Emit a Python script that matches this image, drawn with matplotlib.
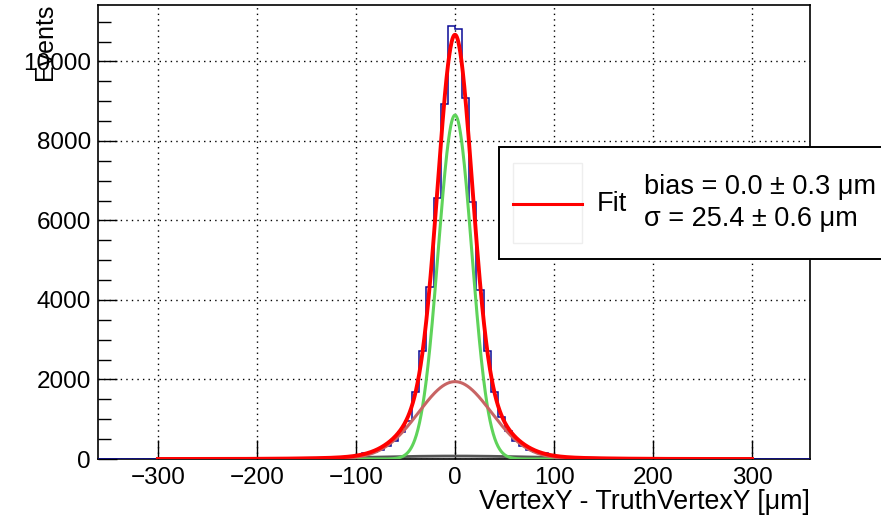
import numpy as np
import matplotlib
matplotlib.use("Agg")
import matplotlib.pyplot as plt
from matplotlib.patches import Rectangle
from matplotlib.lines import Line2D
from matplotlib.ticker import MultipleLocator

plt.rcParams['font.family'] = ['Liberation Sans', 'DejaVu Sans']

# ---------------- data ----------------
bin_lo, bin_hi, n_bins = -360.0, 360.0, 100
hist_counts = [
    0, 0, 0, 0, 1, 0, 0, 1, 0, 1,
    1, 0, 1, 1, 2, 1, 2, 2, 3, 3,
    4, 4, 5, 6, 8, 9, 11, 14, 18, 22,
    20, 26, 33, 42, 55, 72, 98, 140, 184, 226,
    327, 460, 688, 956, 1694, 2709, 4320, 6558, 8923, 10893,
    10810, 9090, 6456, 4252, 2725, 1694, 1064, 712, 460, 327,
    226, 184, 140, 100, 76, 57, 44, 34, 27, 21,
    18, 14, 11, 9, 7, 5, 5, 3, 3, 2,
    2, 1, 1, 2, 1, 0, 1, 0, 0, 1,
    0, 0, 0, 1, 0, 0, 0, 0, 0, 0,
]
# fit components: (amplitude, mean, sigma)
core_gaus = (8650.0, 0.0, 16.9)
wide_gaus = (1946.0, 0.0, 36.5)
bkg_gaus = (75.0, 0.0, 85.0)
fit_range = (-300.0, 300.0)

x_ticks = [-300, -200, -100, 0, 100, 200, 300]
y_ticks = [0, 2000, 4000, 6000, 8000, 10000]
x_title = "VertexY - TruthVertexY [\u03bcm]"
y_title = "Events"
legend_label = "Fit"
fit_text = ["bias = 0.0 \u00b1 0.3 \u03bcm", "\u03c3 = 25.4 \u00b1 0.6 \u03bcm"]

# ---------------- figure ----------------
W, H = 881, 519
fig = plt.figure(figsize=(W / 100, H / 100), dpi=100)
L, R, T, B = 98, 810, 5, 459
ax = fig.add_axes([L / W, 1 - B / H, (R - L) / W, (B - T) / H])

edges = np.linspace(bin_lo, bin_hi, n_bins + 1)
ax.stairs(hist_counts, edges, color='#0a0a96', lw=1.1, zorder=3)

def gaus(x, p):
    a, m, s = p
    return a * np.exp(-0.5 * ((x - m) / s) ** 2)

xf = np.linspace(fit_range[0], fit_range[1], 1500)
ax.plot(xf, gaus(xf, bkg_gaus), color='#555555', lw=2.0, zorder=4)
ax.plot(xf, gaus(xf, core_gaus), color='#5fd35a', lw=2.2, zorder=5)
ax.plot(xf, gaus(xf, wide_gaus), color='#c86464', lw=2.2, zorder=5)
ax.plot(xf, gaus(xf, core_gaus) + gaus(xf, wide_gaus) + gaus(xf, bkg_gaus),
        color='#ff0000', lw=2.8, zorder=6)

ax.set_xlim(-360.5, 358.5)
ax.set_ylim(0, 11420)
ax.set_xticks(x_ticks)
ax.set_yticks(y_ticks)
ax.yaxis.set_minor_locator(MultipleLocator(500))
ax.tick_params(axis='both', which='major', direction='in', length=14, width=1,
               labelsize=17.5, top=False, right=False)
ax.tick_params(axis='y', which='minor', direction='in', length=9, width=1, right=False)
ax.tick_params(axis='x', pad=6)
ax.tick_params(axis='y', pad=5)
ax.grid(True, which='major', color='black', linestyle=(0, (1, 3)), lw=1.0)
ax.set_axisbelow(True)
for sp in ax.spines.values():
    sp.set_linewidth(1.2)

fig.text(R / W, 1 - 509 / H, x_title, ha='right', va='baseline', fontsize=19.3)
fig.text(33 / W, 1 - 4 / H, y_title, ha='right', va='top', rotation=90,
         fontsize=18, rotation_mode='anchor')

# ---------------- legend box ----------------
box = Rectangle((499 / W, 1 - 259 / H), (900 - 499) / W, (259 - 147) / H,
                transform=fig.transFigure, fc='white', ec='black', lw=1.4,
                zorder=10, clip_on=False)
fig.patches.append(box)
sample = Rectangle((513 / W, 1 - 243 / H), (582 - 513) / W, (243 - 163) / H,
                   transform=fig.transFigure, fc='white', ec='#eeeeee', lw=1.0,
                   zorder=11)
fig.patches.append(sample)
fig.lines.append(Line2D([513 / W, 582 / W], [1 - 203.5 / H, 1 - 203.5 / H],
                        transform=fig.transFigure, color='#ff0000', lw=2.2,
                        zorder=12))
fig.text(597 / W, 1 - 211 / H, legend_label, ha='left', va='baseline',
         fontsize=19.5, zorder=13)
fig.text(644 / W, 1 - 194 / H, fit_text[0], ha='left', va='baseline',
         fontsize=19.5, zorder=13)
fig.text(644 / W, 1 - 226.5 / H, fit_text[1], ha='left', va='baseline',
         fontsize=19.5, zorder=13)

fig.savefig("out.png", dpi=100)
